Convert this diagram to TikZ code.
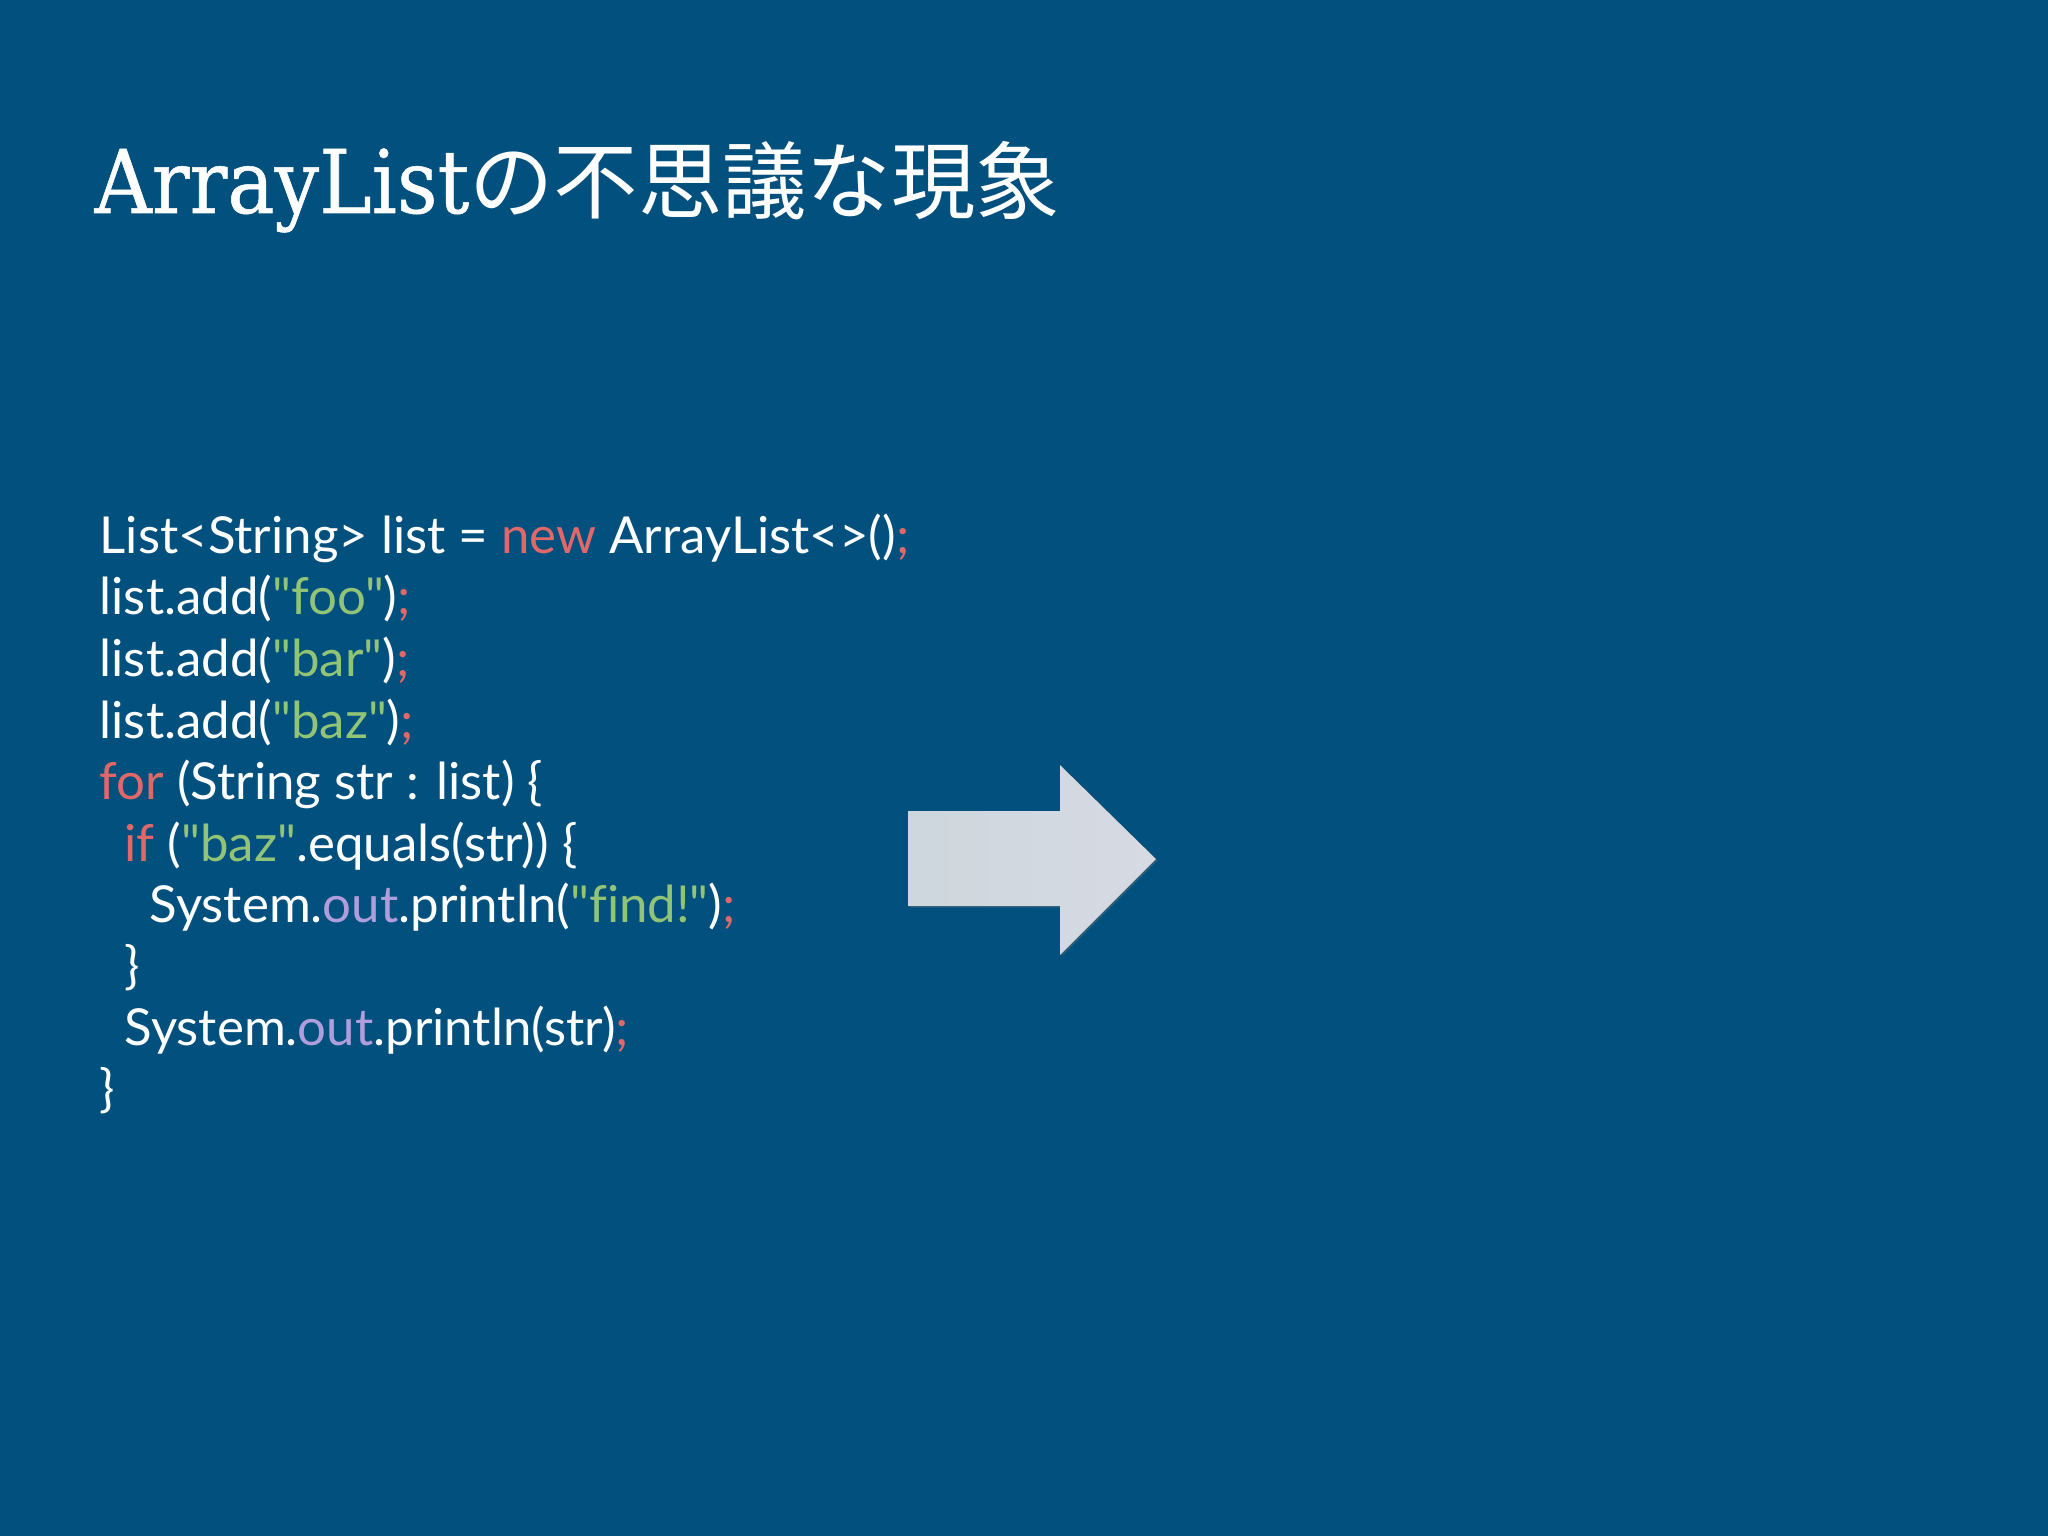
\documentclass[tikz,border=0pt]{standalone}
\usepackage{fontspec}
\setmainfont{Lato}[Ligatures={TeXOff,NoCommon}]
\newfontfamily\titlefont{DejaVu Serif}[FakeStretch=0.9,FakeBold=0.6]
\newfontfamily\cjk{Noto Sans CJK JP}
\usetikzlibrary{positioning,shadows}

\definecolor{slidebg}{RGB}{1,80,126}
\definecolor{kwred}{RGB}{224,104,104}
\definecolor{strgreen}{RGB}{145,196,118}
\definecolor{fldpurple}{RGB}{176,158,220}
\definecolor{arrowleft}{RGB}{206,215,221}
\definecolor{arrowright}{RGB}{214,218,227}

\newcommand{\kw}[1]{\textcolor{kwred}{#1}}
\newcommand{\strlit}[1]{\textcolor{strgreen}{#1}}
\newcommand{\fld}[1]{\textcolor{fldpurple}{#1}}

\tikzset{
  codeline/.style={anchor=base west, inner sep=0pt, text=white,
    font=\fontsize{14.5pt}{16pt}\selectfont},
  slidetitle/.style={anchor=base west, inner sep=0pt, text=white,
    font=\titlefont\fontsize{25pt}{30pt}\selectfont}
}

\begin{document}
\begin{tikzpicture}
  \fill[slidebg] (0,0) rectangle (20.48,-15.36);
  \useasboundingbox (0,0) rectangle (20.48,-15.36);

  \node[slidetitle] (title) at (0.94,-2.13) {ArrayList{\cjk\fontsize{24pt}{30pt}\selectfont の不思議な現象}};

  % code
  \node[codeline] (l1) at (0.99,-5.54) {List<String> list = \kw{new} ArrayList<>()\kw{;}};
  \node[codeline] (l2) at (0.99,-6.15) {list.add(\strlit{"foo"})\kw{;}};
  \node[codeline] (l3) at (0.99,-6.77) {list.add(\strlit{"bar"})\kw{;}};
  \node[codeline] (l4) at (0.99,-7.38) {list.add(\strlit{"baz"})\kw{;}};
  \node[codeline] (l5) at (0.99,-7.99) {\kw{for} (String str : list) \{};
  \node[codeline] (l6) at (1.24,-8.61) {\kw{if} (\strlit{"baz"}.equals(str)) \{};
  \node[codeline] (l7) at (1.49,-9.22) {System.\fld{out}.println(\strlit{"find!"})\kw{;}};
  \node[codeline] (l8) at (1.24,-9.83) {\}};
  \node[codeline] (l9) at (1.24,-10.45) {System.\fld{out}.println(str)\kw{;}};
  \node[codeline] (l10) at (0.99,-11.06) {\}};

  % arrow
  \fill[left color=arrowleft, right color=arrowright,
    drop shadow={opacity=0.3, shadow xshift=0.015, shadow yshift=-0.015}]
    (9.08,-8.11) -- (10.60,-8.11) -- (10.60,-7.65) -- (11.56,-8.59)
    -- (10.60,-9.55) -- (10.60,-9.06) -- (9.08,-9.06) -- cycle;
\end{tikzpicture}
\end{document}
